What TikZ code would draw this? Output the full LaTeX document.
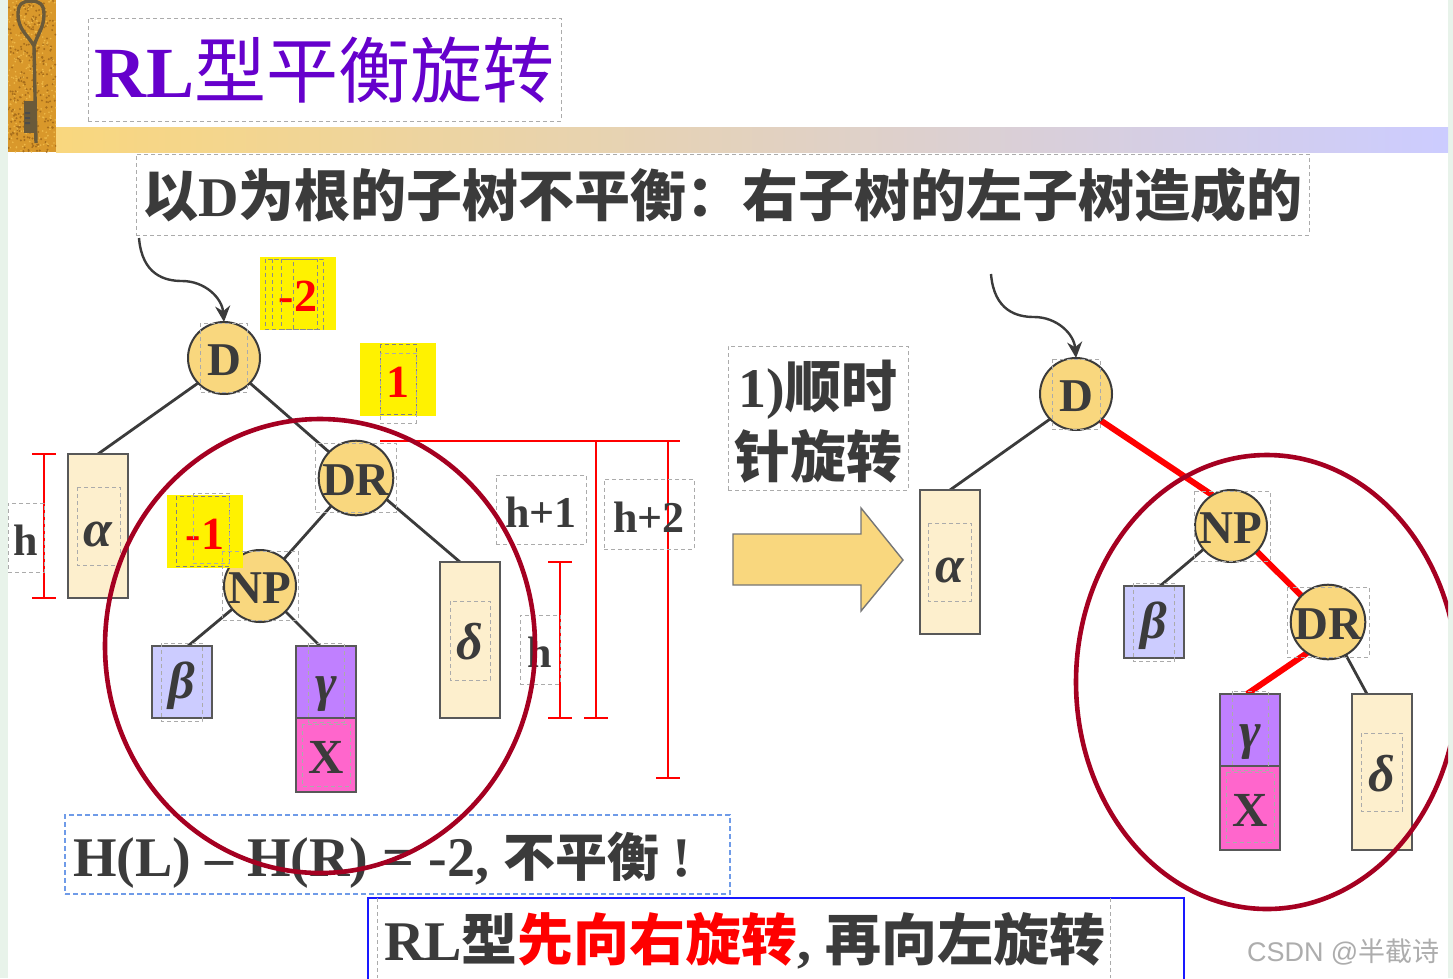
\documentclass[tikz,border=0pt]{standalone}
\usepackage{fontspec}
\usetikzlibrary{shapes.geometric,arrows.meta,backgrounds}
\setmainfont{Liberation Serif}
\newfontfamily\cjk{Noto Sans CJK SC}
\newfontfamily\wmfont{Liberation Sans}
\newcommand\Fs[1]{\fontsize{#1}{#1}\selectfont}
\newcommand\Zh[1]{{\cjk\bfseries #1}}
\newcommand\Dn[2]{\raisebox{-#1}[\height][\depth]{#2}}
\newcommand\Lw[1]{\Dn{2.5pt}{#1}}
\newcommand\Gk[2]{\Dn{#1}{\fontspec{Liberation Serif}\bfseries\itshape #2}}
\definecolor{ink}{HTML}{3B3B3B}
\definecolor{gold}{HTML}{F9D77E}
\definecolor{cream}{HTML}{FDEFCD}
\definecolor{lav}{HTML}{CCCCFF}
\definecolor{violet}{HTML}{C080FF}
\definecolor{pinkx}{HTML}{FF66CC}
\definecolor{wine}{HTML}{A50021}
\definecolor{purp}{HTML}{6600CC}
\definecolor{edge}{HTML}{E8F3EA}
\definecolor{dashg}{HTML}{ABABAB}
\definecolor{bluedash}{HTML}{6F9BE8}
\definecolor{keybg}{HTML}{D9982B}
\definecolor{keyspeck}{HTML}{A86E1C}
\definecolor{keylight}{HTML}{EDB848}
\definecolor{keyiron}{HTML}{6A5A3A}
\tikzset{
  x=1pt,y=-1pt,
  every node/.style={inner sep=0pt,outer sep=0pt,text=ink,font=\bfseries},
  dbox/.style={draw=dashg,dash pattern=on 4pt off 3pt,line width=1pt},
  bluebox/.style={draw=bluedash,dash pattern=on 5pt off 3pt,line width=1.6pt},
  solidblue/.style={draw=blue!90!white,line width=1.8pt},
  treenode/.style={circle,draw=ink,line width=2pt,fill=gold,minimum size=72pt,font=\bfseries\Fs{47}},
  leaf/.style={draw=ink!85!white,line width=2.2pt,font=\bfseries\itshape\Fs{52}},
  edgeline/.style={draw=ink,line width=2.8pt},
  rededge/.style={draw=red,line width=6pt},
  dim/.style={draw=red,line width=1.5pt},
  ring/.style={ellipse,draw=wine,line width=4.6pt,fill=none,inner sep=0pt},
  badge/.style={fill=yellow,font=\bfseries\Fs{46},text=red},
  curveline/.style={draw=ink,line width=2.4pt,-{Stealth[length=16pt,width=15pt]}},
}
\newcommand\Bx[7]{% name x1 y1 x2 y2 style text
  \pgfmathsetmacro\cxx{(#2+#4)/2}\pgfmathsetmacro\cyy{(#3+#5)/2}
  \pgfmathsetmacro\www{#4-#2}\pgfmathsetmacro\hhh{#5-#3}
  \node[#6,minimum width=\www pt,minimum height=\hhh pt] (#1) at (\cxx,\cyy) {#7};}
\begin{document}
\begin{tikzpicture}
\useasboundingbox (0,0) rectangle (1453,978);
\begin{pgfonlayer}{background}
\fill[white] (0,0) rectangle (1453,978);
\fill[edge] (0,0) rectangle (8,978);
\fill[edge] (1448,0) rectangle (1453,978);
\shade[left color=gold,right color=lav] (56,127) rectangle (1448,152);
\end{pgfonlayer}
% key picture
\begin{scope}
\clip (8,0) rectangle (56,152);
\fill[keybg] (8,0) rectangle (56,152);
\pgfmathsetseed{7}
\foreach \i in {1,...,260}{
  \pgfmathsetmacro\px{8+48*rnd}\pgfmathsetmacro\py{152*rnd}
  \fill[keyspeck] (\px,\py) circle (1.1pt);
  \pgfmathsetmacro\qx{8+48*rnd}\pgfmathsetmacro\qy{152*rnd}
  \fill[keylight] (\qx,\qy) circle (.9pt);
}
\draw[keyiron,line width=3.4pt,line join=round]
  (34,46) .. controls (28,35) and (18,30) .. (18,14) .. controls (18,3) and (24,1) .. (31,1)
  .. controls (39,1) and (44,4) .. (44,14) .. controls (44,28) and (37,35) .. (34,46) -- (36,143);
\fill[keyiron] (24,101) rectangle (37,133);
\fill[black!70] (25,112) rectangle (30,114) (25,117) rectangle (30,119) (25,122) rectangle (30,124);
\end{scope}
% text blocks
\Bx{title}{88}{18}{561}{121}{dbox}{\Fs{72}\color{purp}\Dn{1pt}{RL{\cjk\mdseries 型平衡旋转}}}
\Bx{sub}{136}{154}{1309}{235}{dbox}{\Fs{56}\Dn{1pt}{\Zh{以}D\Zh{为根的子树不平衡：右子树的左子树造成的}}}
% left tree
\node[treenode] (D) at (224,358) {\Lw{D}};
\node[treenode] (DR) at (356,478) {\Lw{DR}};
\node[treenode] (NP) at (260,586) {\Lw{NP}};
\Bx{a}{68}{454}{128}{598}{leaf,fill=cream}{\Gk{8pt}{α}}
\Bx{b}{152}{646}{212}{718}{leaf,fill=lav}{\Gk{4pt}{β}}
\Bx{c}{296}{646}{356}{718}{leaf,fill=violet}{\Gk{12pt}{γ}}
\Bx{x}{296}{718}{356}{792}{leaf,fill=pinkx,font=\bfseries\Fs{49}}{\Lw{X}}
\Bx{d}{440}{562}{500}{718}{leaf,fill=cream}{\Gk{2pt}{δ}}
\begin{pgfonlayer}{background}
\draw[edgeline] (D.224) -- (a.north);
\draw[edgeline] (D.-44) -- (DR.136);
\draw[edgeline] (DR) -- (NP);
\draw[edgeline] (DR.-35) -- ([xshift=-10pt]d.north);
\draw[edgeline] (NP) -- ([xshift=6pt]b.north);
\draw[edgeline] (NP) -- ([xshift=-6pt]c.north);
\end{pgfonlayer}
% right tree
\node[treenode] (RD) at (1076,394) {\Lw{D}};
\node[treenode] (RNP) at (1231,526) {\Lw{NP}};
\node[treenode] (RDR) at (1328,622) {\Lw{DR}};
\Bx{ra}{920}{490}{980}{634}{leaf,fill=cream}{\Gk{8pt}{α}}
\Bx{rb}{1124}{586}{1184}{658}{leaf,fill=lav}{\Gk{4pt}{β}}
\Bx{rc}{1220}{694}{1280}{766}{leaf,fill=violet}{\Gk{12pt}{γ}}
\Bx{rx}{1220}{766}{1280}{850}{leaf,fill=pinkx,font=\bfseries\Fs{49}}{\Lw{X}}
\Bx{rd}{1352}{694}{1412}{850}{leaf,fill=cream}{\Gk{2pt}{δ}}
\begin{pgfonlayer}{background}
\draw[edgeline] (RD.224) -- (ra.north);
\draw[rededge] (RD.-47) -- (RNP.121);
\draw[rededge] (RNP) -- (RDR);
\draw[rededge] (RDR.236) -- ([xshift=-3pt]rc.north);
\draw[edgeline] (RNP) -- ([xshift=6pt]rb.north);
\draw[edgeline] (RDR) -- ([xshift=-15pt]rd.north);
\end{pgfonlayer}
% curved pointers
\coordinate (p1) at (139,238);
\coordinate (p2) at (991,274);
\draw[curveline] (p1) .. controls (142,275) and (165,281) .. (182,281) .. controls (205,281) and (222,298) .. (D.north);
\draw[curveline] (p2) .. controls (994,311) and (1017,317) .. (1034,317) .. controls (1057,317) and (1074,334) .. (RD.north);
% yellow balance labels
\Bx{m2}{260}{257}{336}{330}{badge}{\Lw{-2}}
\Bx{p1l}{360}{343}{436}{416}{badge}{\Lw{1}}
\Bx{m1}{167}{495}{243}{568}{badge}{\Lw{-1}}
% dashed frames over nodes
\foreach \xa/\xb in {265/293,272/317,281/323}{\draw[dbox,draw=black!45] (\xa,259) rectangle (\xb,329);}
\draw[dbox,draw=black!50] (380,344) rectangle (416,414);
\draw[dbox] (380,353) rectangle (416,423);
\draw[dbox,draw=black!50] (176,496) rectangle (229,566);
\draw[dbox] (193,493) rectangle (229,563);
\draw[dbox] (200,323) rectangle (247,392);
\draw[dbox] (315,443) rectangle (396,512);
\draw[dbox] (222,551) rectangle (298,620);
\draw[dbox] (77,487) rectangle (120,565);
\draw[dbox] (161,643) rectangle (202,721);
\draw[dbox] (308,643) rectangle (344,722);
\draw[dbox] (302,724) rectangle (350,786);
\draw[dbox] (450,601) rectangle (490,680);
\draw[dbox] (1052,359) rectangle (1100,429);
\draw[dbox] (928,523) rectangle (971,601);
\draw[dbox] (1194,491) rectangle (1270,561);
\draw[dbox] (1287,587) rectangle (1369,657);
\draw[dbox] (1133,583) rectangle (1174,661);
\draw[dbox] (1232,691) rectangle (1268,770);
\draw[dbox] (1226,772) rectangle (1274,842);
\draw[dbox] (1361,733) rectangle (1402,811);
% dimension lines
\coordinate (h1t) at (44,454); \coordinate (h1b) at (44,598);
\draw[dim] (h1t) -- (h1b);
\draw[dim] ([xshift=-12pt]h1t) -- ([xshift=12pt]h1t);
\draw[dim] ([xshift=-12pt]h1b) -- ([xshift=12pt]h1b);
\coordinate (h2t) at (560,562); \coordinate (h2b) at (560,718);
\draw[dim] (h2t) -- (h2b);
\draw[dim] ([xshift=-12pt]h2t) -- ([xshift=12pt]h2t);
\draw[dim] ([xshift=-12pt]h2b) -- ([xshift=12pt]h2b);
\coordinate (topl) at (380,441); \coordinate (topr) at (680,441);
\draw[dim] (topl) -- (topr);
\coordinate (h3t) at (596,441); \coordinate (h3b) at (596,718);
\draw[dim] (h3t) -- (h3b);
\draw[dim] ([xshift=-12pt]h3b) -- ([xshift=12pt]h3b);
\coordinate (h4t) at (668,441); \coordinate (h4b) at (668,778);
\draw[dim] (h4t) -- (h4b);
\draw[dim] ([xshift=-12pt]h4b) -- ([xshift=12pt]h4b);
% height labels
\Bx{lh}{8}{503}{44}{572}{dbox}{\Fs{44}\Dn{3pt}{h}}
\Bx{lh1}{496}{475}{586}{544}{dbox}{\Fs{44}\Dn{3pt}{h+1}}
\Bx{lh2}{604}{479}{694}{549}{dbox}{\Fs{44}\Dn{3pt}{h+2}}
\Bx{lh3}{520}{615}{560}{684}{dbox}{\Fs{44}\Dn{3pt}{h}}
% big arrow
\draw[draw=ink!70!white,line width=1.4pt,fill=gold] (733,534) -- (861,534) -- (861,508) -- (903,560) -- (861,611) -- (861,585) -- (733,585) -- cycle;
\Bx{step}{728}{346}{908}{490}{dbox,align=center,font=\bfseries\Fs{56}}{\Dn{4pt}{1)\Zh{顺时}}\\[9pt]\Dn{4pt}{\Zh{针旋转}}}
% bottom text
\Bx{eq}{65}{815}{730}{894}{bluebox}{}
\node[anchor=base west,font=\bfseries\Fs{56}] (eqt) at (73,876) {H(L) – H(R) = -2, {\Fs{52}\Zh{不平衡}}\kern13pt!};
\draw[solidblue] (368,985) -- (368,898) -- (1184,898) -- (1184,985);
\coordinate (g1) at (377,898); \coordinate (g1b) at (377,978);
\coordinate (g2) at (1110,898); \coordinate (g2b) at (1110,978);
\draw[dbox] (g1) -- (g1b);
\draw[dbox] (g2) -- (g2b);
\node[anchor=base west] (rl) at (384,960) {\Fs{56}RL\Zh{型}{\color{red}\Zh{先向右旋转}}, \Zh{再向左旋转}};
% rings
\node[ring,minimum width=430pt,minimum height=454pt] (ringL) at (320,646) {};
\begin{scope}
\clip (0,0) rectangle (1448,978);
\node[ring,minimum width=382pt,minimum height=454pt] (ringR) at (1267,682) {};
\end{scope}
% watermark
\node[anchor=base west,font=\Fs{27}] (wm) at (1247,961) {\color{black!32}\wmfont CSDN @{\cjk 半截诗}};
\end{tikzpicture}
\end{document}
